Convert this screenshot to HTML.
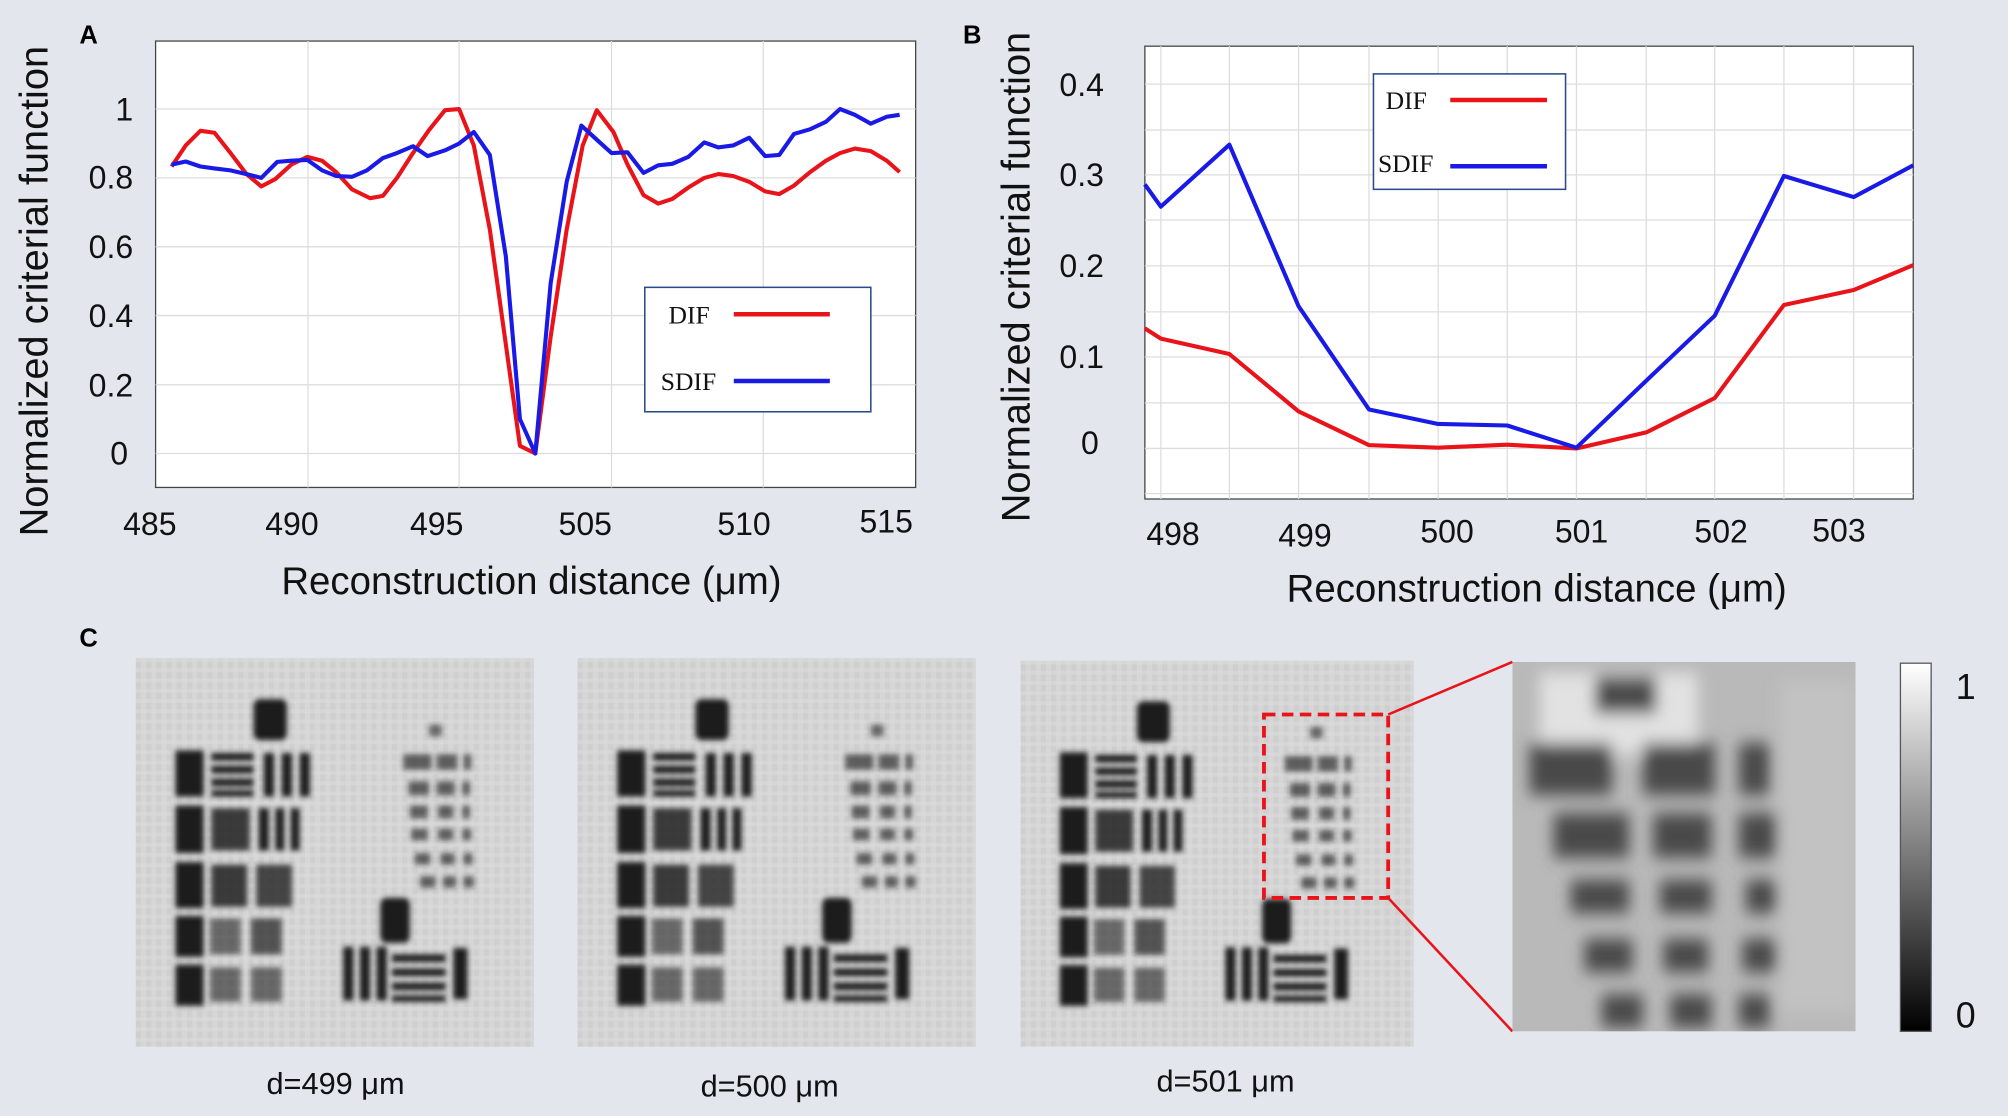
<!DOCTYPE html>
<html><head><meta charset="utf-8"><style>
html,body{margin:0;padding:0;background:#e3e6ed;}
svg{display:block;}
text{font-family:"Liberation Sans",sans-serif;}
.tk{font-size:25px;fill:#111;}
.ser{font-family:"Liberation Serif",serif;font-size:20px;fill:#111;}
</style></head><body>
<svg width="2008" height="1116" viewBox="0 0 1568 870" preserveAspectRatio="none" xmlns="http://www.w3.org/2000/svg">
<defs>
<filter id="bl" x="-10%" y="-10%" width="120%" height="120%"><feGaussianBlur stdDeviation="2"/></filter>
<filter id="bl2" x="-20%" y="-20%" width="140%" height="140%"><feGaussianBlur stdDeviation="2.2"/></filter>
<linearGradient id="cb" x1="0" y1="0" x2="0" y2="1"><stop offset="0" stop-color="#fff"/><stop offset="1" stop-color="#000"/></linearGradient>
<pattern id="tex" width="8" height="8" patternUnits="userSpaceOnUse"><rect width="8" height="8" fill="#d6d6d6"/><rect width="4" height="8" fill="#cfcfcf"/><rect width="8" height="3" fill="#dadada" opacity="0.6"/></pattern>
<g id="usaf">
<rect x="0" y="0" width="311" height="303" fill="url(#tex)"/>
<g filter="url(#bl)" fill="#1e1e1e">
<rect x="92" y="32" width="26" height="32" rx="5"/>
<rect x="31" y="72" width="22" height="36"/><rect x="59" y="74" width="33" height="6"/><rect x="59" y="84" width="33" height="6"/><rect x="59" y="94" width="33" height="6"/><rect x="59" y="103" width="33" height="5"/>
<rect x="100" y="74" width="8" height="34"/><rect x="114" y="74" width="8" height="34"/><rect x="128" y="74" width="8" height="34"/>
<rect x="31" y="115" width="22" height="37"/><rect x="59" y="117" width="30" height="33" opacity="0.85"/><rect x="96" y="117" width="8" height="33"/><rect x="109" y="117" width="7" height="33"/><rect x="121" y="117" width="7" height="33"/>
<rect x="31" y="159" width="22" height="36"/><rect x="59" y="161" width="28" height="33" opacity="0.85"/><rect x="94" y="161" width="28" height="33" opacity="0.8"/>
<rect x="31" y="201" width="22" height="32"/><rect x="58" y="203" width="24" height="28" opacity="0.6"/><rect x="90" y="203" width="24" height="28" opacity="0.7"/>
<rect x="31" y="239" width="22" height="32"/><rect x="58" y="241" width="24" height="27" opacity="0.6"/><rect x="90" y="241" width="24" height="27" opacity="0.6"/>
<rect x="191" y="187" width="23" height="35" rx="5"/>
<rect x="162" y="225" width="8" height="42"/><rect x="175" y="225" width="8" height="42"/><rect x="188" y="225" width="8" height="42"/>
<rect x="200" y="231" width="42" height="6"/><rect x="200" y="242" width="42" height="6"/><rect x="200" y="253" width="42" height="6"/><rect x="200" y="263" width="42" height="5"/><rect x="248" y="226" width="11" height="40"/>
<rect x="229" y="52" width="10" height="9" opacity="0.6"/>
<g opacity="0.65"><rect x="209" y="75" width="22" height="12"/><rect x="235" y="75" width="16" height="12"/><rect x="256" y="75" width="6" height="12"/>
<rect x="213" y="96" width="16" height="11"/><rect x="235" y="96" width="14" height="11"/><rect x="255" y="96" width="6" height="11"/>
<rect x="214" y="115" width="14" height="10"/><rect x="236" y="115" width="12" height="10"/><rect x="255" y="115" width="6" height="10"/>
<rect x="215" y="133" width="13" height="9"/><rect x="236" y="133" width="12" height="9"/><rect x="255" y="133" width="7" height="9"/>
<rect x="218" y="152" width="12" height="9"/><rect x="238" y="152" width="11" height="9"/><rect x="256" y="152" width="7" height="9"/>
<rect x="222" y="170" width="12" height="9"/><rect x="240" y="170" width="10" height="9"/><rect x="256" y="170" width="8" height="9"/></g>
</g>
</g>
<clipPath id="zc"><rect x="1181" y="516" width="268" height="288"/></clipPath>
</defs>

<!-- Panel A -->
<text x="62" y="34" font-size="20" font-weight="bold">A</text>
<rect x="121.5" y="32" width="593.5" height="348" fill="#fff" stroke="#444" stroke-width="1"/>
<g stroke="#ddd" stroke-width="1">
<line x1="240.5" y1="32" x2="240.5" y2="380"/><line x1="358.5" y1="32" x2="358.5" y2="380"/><line x1="477.5" y1="32" x2="477.5" y2="380"/><line x1="596" y1="32" x2="596" y2="380"/>
<line x1="121.5" y1="85" x2="715" y2="85"/><line x1="121.5" y1="138.7" x2="715" y2="138.7"/><line x1="121.5" y1="192.4" x2="715" y2="192.4"/><line x1="121.5" y1="246" x2="715" y2="246"/><line x1="121.5" y1="300" x2="715" y2="300"/><line x1="121.5" y1="353.5" x2="715" y2="353.5"/>
</g>
<g class="tk" text-anchor="end">
<text x="104" y="94">1</text><text x="104" y="147">0.8</text><text x="104" y="201">0.6</text><text x="104" y="255">0.4</text><text x="104" y="309">0.2</text><text x="100" y="362">0</text>
</g>
<g class="tk" text-anchor="middle">
<text x="117" y="417">485</text><text x="228" y="417">490</text><text x="341" y="417">495</text><text x="457" y="417">505</text><text x="581" y="417">510</text><text x="692" y="415">515</text>
</g>
<text x="415" y="463" font-size="30" text-anchor="middle" fill="#111">Reconstruction distance (μm)</text>
<text transform="translate(37,227) rotate(-90)" font-size="31" text-anchor="middle" fill="#111">Normalized criterial function</text>
<polyline id="rA" fill="none" stroke="#e8141a" stroke-width="3.2" stroke-linejoin="round"/>
<polyline id="bA" fill="none" stroke="#1a1ae6" stroke-width="3.2" stroke-linejoin="round"/>
<rect x="503.5" y="224" width="176.5" height="97" fill="#fff" stroke="#2a4a8a" stroke-width="1.2"/>
<text x="522" y="252" class="ser">DIF</text>
<line x1="573" y1="245" x2="648" y2="245" stroke="#e8141a" stroke-width="3.5"/>
<text x="516" y="304" class="ser">SDIF</text>
<line x1="573" y1="297" x2="648" y2="297" stroke="#1a1ae6" stroke-width="3.5"/>

<!-- Panel B -->
<text x="752" y="34" font-size="20" font-weight="bold">B</text>
<rect x="894" y="36" width="600" height="353" fill="#fff" stroke="#444" stroke-width="1"/>
<g stroke="#ddd" stroke-width="1">
<line x1="906.5" y1="36" x2="906.5" y2="389"/><line x1="960" y1="36" x2="960" y2="389"/><line x1="1014" y1="36" x2="1014" y2="389"/><line x1="1069" y1="36" x2="1069" y2="389"/><line x1="1123" y1="36" x2="1123" y2="389"/><line x1="1177" y1="36" x2="1177" y2="389"/><line x1="1231" y1="36" x2="1231" y2="389"/><line x1="1285.5" y1="36" x2="1285.5" y2="389"/><line x1="1339" y1="36" x2="1339" y2="389"/><line x1="1393" y1="36" x2="1393" y2="389"/><line x1="1447.5" y1="36" x2="1447.5" y2="389"/>
<line x1="894" y1="65.6" x2="1494" y2="65.6"/><line x1="894" y1="101.4" x2="1494" y2="101.4"/><line x1="894" y1="136.3" x2="1494" y2="136.3"/><line x1="894" y1="171.5" x2="1494" y2="171.5"/><line x1="894" y1="207.3" x2="1494" y2="207.3"/><line x1="894" y1="243.1" x2="1494" y2="243.1"/><line x1="894" y1="278.3" x2="1494" y2="278.3"/><line x1="894" y1="314.1" x2="1494" y2="314.1"/><line x1="894" y1="349.6" x2="1494" y2="349.6"/><line x1="894" y1="384.8" x2="1494" y2="384.8"/>
</g>
<g class="tk" text-anchor="end">
<text x="862" y="75">0.4</text><text x="862" y="145">0.3</text><text x="862" y="216">0.2</text><text x="862" y="287">0.1</text><text x="858" y="354">0</text>
</g>
<g class="tk" text-anchor="middle">
<text x="916" y="425">498</text><text x="1019" y="426">499</text><text x="1130" y="423">500</text><text x="1235" y="423">501</text><text x="1344" y="423">502</text><text x="1436" y="422">503</text>
</g>
<text x="1200" y="469" font-size="30" text-anchor="middle" fill="#111">Reconstruction distance (μm)</text>
<text transform="translate(804,216) rotate(-90)" font-size="31" text-anchor="middle" fill="#111">Normalized criterial function</text>
<polyline id="rB" fill="none" stroke="#e8141a" stroke-width="3.2" stroke-linejoin="round"/>
<polyline id="bB" fill="none" stroke="#1a1ae6" stroke-width="3.2" stroke-linejoin="round"/>
<rect x="1072.5" y="57.6" width="150" height="90" fill="#fff" stroke="#2a4a8a" stroke-width="1.2"/>
<text x="1082" y="85" class="ser">DIF</text>
<line x1="1132.5" y1="78" x2="1208" y2="78" stroke="#e8141a" stroke-width="3.5"/>
<text x="1076" y="134" class="ser">SDIF</text>
<line x1="1132.5" y1="129.6" x2="1208" y2="129.6" stroke="#1a1ae6" stroke-width="3.5"/>

<!-- Panel C -->
<text x="62" y="504" font-size="20" font-weight="bold">C</text>
<use href="#usaf" transform="translate(106,513)"/>
<use href="#usaf" transform="translate(451,513)"/>
<use href="#usaf" transform="translate(797,515) scale(0.987,0.993)"/>
<g font-size="24" fill="#111" text-anchor="middle">
<text x="262" y="853">d=499 μm</text><text x="601" y="855">d=500 μm</text><text x="957" y="851">d=501 μm</text>
</g>
<rect x="987" y="557" width="97" height="143" fill="none" stroke="#e8141a" stroke-width="3" stroke-dasharray="9,5"/>
<line x1="1084" y1="557" x2="1181" y2="516" stroke="#e8141a" stroke-width="2"/>
<line x1="1084" y1="700" x2="1181" y2="804" stroke="#e8141a" stroke-width="2"/>
<g clip-path="url(#zc)">
<rect x="1181" y="516" width="268" height="288" fill="#b9b9b9"/>
<g transform="translate(1181,516) scale(2.68,2.88)">
<g filter="url(#bl2)">
<rect x="8" y="3" width="46" height="22" fill="#ececec" opacity="0.8"/>
<rect x="78" y="5" width="22" height="90" fill="#c8c8c8" opacity="0.6"/>
<g fill="#4a4a4a">
<rect x="24" y="4" width="18" height="10"/>
<rect x="5" y="22" width="24" height="14"/><rect x="38" y="22" width="21" height="14"/><rect x="66" y="22" width="9" height="14"/>
<rect x="12" y="41" width="22" height="12"/><rect x="41" y="41" width="17" height="12"/><rect x="66" y="41" width="11" height="12"/>
<rect x="17" y="59" width="17" height="9"/><rect x="43" y="59" width="15" height="9"/><rect x="68" y="59" width="9" height="9"/>
<rect x="21" y="75" width="14" height="9"/><rect x="44" y="75" width="13" height="9"/><rect x="67" y="75" width="10" height="9"/>
<rect x="26" y="90" width="12" height="9"/><rect x="46" y="90" width="12" height="9"/><rect x="66" y="90" width="9" height="9"/>
</g></g></g>
</g>
<rect x="1484" y="517" width="24" height="287" fill="url(#cb)" stroke="#555" stroke-width="1"/>
<text x="1535" y="545" font-size="28" text-anchor="middle" fill="#111">1</text>
<text x="1535" y="801" font-size="28" text-anchor="middle" fill="#111">0</text>
</svg>
<script>
function pts(arr,ox,sx,sy){return arr.map(p=>(ox+p[0]/sx).toFixed(1)+','+(p[1]/sy).toFixed(1)).join(' ');}
var rA=[[268,435],[290,380],[313,342],[335,347],[360,400],[385,455],[408,487],[430,468],[455,430],[480,410],[503,420],[525,450],[550,495],[578,518],[598,512],[620,465],[645,400],[670,340],[695,288],[717,285],[740,380],[765,600],[790,900],[812,1165],[836,1185],[860,880],[885,600],[910,380],[932,288],[958,345],[980,430],[1005,510],[1028,532],[1050,520],[1075,490],[1100,465],[1122,455],[1145,460],[1170,475],[1195,500],[1217,507],[1240,485],[1265,450],[1290,420],[1312,400],[1335,388],[1360,395],[1385,420],[1405,450]];
var bA=[[268,430],[290,422],[313,435],[335,440],[360,445],[385,455],[408,465],[433,423],[455,420],[480,418],[503,445],[525,460],[550,462],[573,445],[598,413],[620,400],[645,382],[668,408],[695,393],[717,375],[740,345],[765,405],[790,670],[812,1095],[836,1185],[860,740],[885,475],[908,328],[932,365],[955,400],[980,398],[1005,452],[1028,432],[1050,428],[1075,410],[1100,372],[1122,385],[1145,380],[1170,360],[1195,408],[1217,405],[1240,350],[1265,338],[1290,318],[1312,285],[1335,300],[1360,323],[1385,305],[1405,300]];
var rB=[[220,858],[245,885],[352,925],[460,1075],[570,1163],[678,1170],[786,1162],[894,1172],[1003,1130],[1110,1040],[1218,797],[1327,758],[1420,693]];
var bB=[[220,482],[245,540],[352,378],[460,800],[570,1070],[678,1108],[786,1112],[894,1170],[1003,995],[1110,825],[1218,460],[1327,515],[1420,432]];
document.getElementById('rA').setAttribute('points',pts(rA,0,2,3.352));
document.getElementById('bA').setAttribute('points',pts(bA,0,2,3.352));
document.getElementById('rB').setAttribute('points',pts(rB,784,2,3.352));
document.getElementById('bB').setAttribute('points',pts(bB,784,2,3.352));
</script>
</body></html>
